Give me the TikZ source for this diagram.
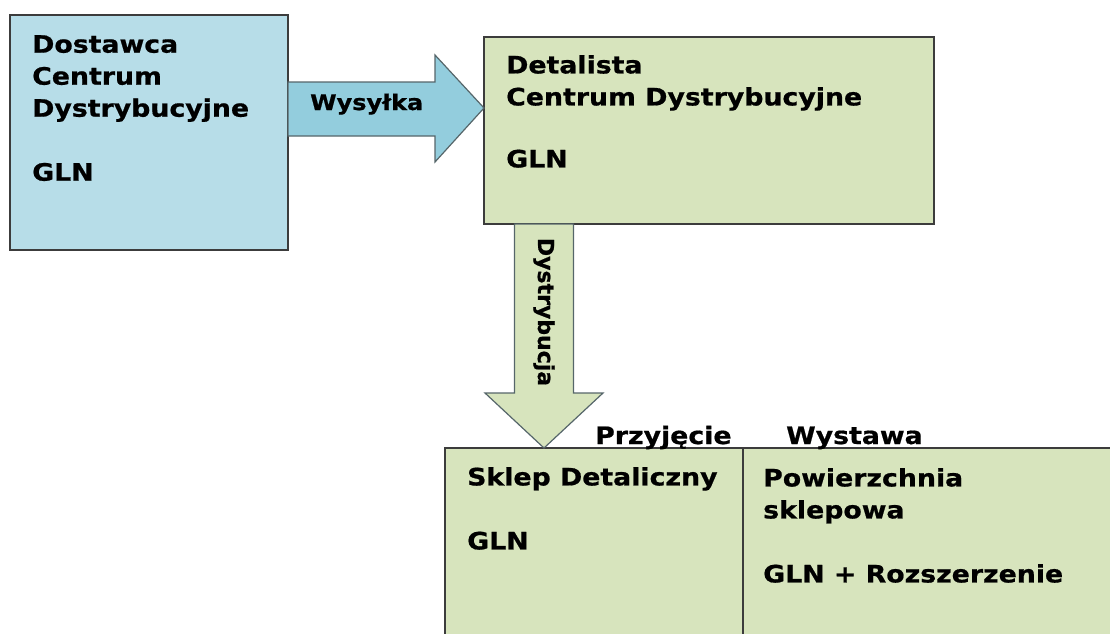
\documentclass[tikz,border=0pt]{standalone}
\usepackage{fontspec}
\setmainfont{DejaVu Sans}[BoldFeatures={FakeBold=0.7}]
\newfontfamily\lbl{DejaVu Sans}[FakeStretch=1.115,BoldFeatures={FakeBold=0.7}]
\usetikzlibrary{calc}
\definecolor{boxblue}{HTML}{B7DDE8}
\definecolor{arrblue}{HTML}{93CDDD}
\definecolor{boxgreen}{HTML}{D7E4BD}
\definecolor{edgegray}{HTML}{3C3C3C}
\definecolor{arredge}{HTML}{56666A}
\begin{document}
\begin{tikzpicture}[x=1pt,y=-1pt,
  box/.style={draw=edgegray,line width=1.6pt,anchor=north west,inner sep=0pt,outer sep=0pt},
  txt/.style={anchor=north west,inner sep=0pt,align=left,font=\lbl\bfseries\fontsize{24}{32}\selectfont},
  onelbl/.style={anchor=base west,inner sep=0pt,font=\lbl\bfseries\fontsize{24}{32}\selectfont},
  arr/.style={line width=1.2pt,line join=miter}]
\useasboundingbox (0,0) rectangle (1110,633);
\clip (0,0) rectangle (1110,633);
% boxes
\node[box,fill=boxblue,minimum width=278,minimum height=235] (sup) at (10,15) {};
\node[box,fill=boxgreen,minimum width=450,minimum height=187] (ret) at (484,37) {};
\node[box,fill=boxgreen,minimum width=700,minimum height=250] (shop) at (445,448) {};
\coordinate (div) at ($(shop.north west)+(298,0)$);
\draw[edgegray,line width=1.6pt] (div) -- ++(0,250);
% arrow Wysylka
\coordinate (ws) at ($(sup.north east)+(0,93)$);
\coordinate (wt) at ($(ret.north west)+(0,71)$);
\draw[arr,fill=arrblue,draw=arredge] ($(ws)+(0,-26)$) -- ($(wt)+(-49,-26)$) -- ($(wt)+(-49,-53)$) -- (wt)
  -- ($(wt)+(-49,54)$) -- ($(wt)+(-49,28)$) -- ($(ws)+(0,28)$) -- cycle;
\node[anchor=base west,inner sep=0pt,font=\lbl\bfseries\fontsize{21.5}{26}\selectfont] (wlab) at (310,110) {Wysyłka};
% arrow Dystrybucja
\coordinate (ds) at ($(ret.south west)+(60,0)$);
\coordinate (dt) at ($(shop.north west)+(99,0)$);
\draw[arr,fill=boxgreen,draw=arredge] ($(ds)+(-29.5,0)$) -- ($(dt)+(-29.5,-55)$) -- ($(dt)+(-59,-55)$) -- (dt)
  -- ($(dt)+(59,-55)$) -- ($(dt)+(29.5,-55)$) -- ($(ds)+(29.5,0)$) -- cycle;
\node[rotate=-90,inner sep=0pt,font=\bfseries\fontsize{22}{26}\selectfont] (dlab) at (544,312) {Dystrybucja};
% texts
\node[txt] (suptxt) at (32,35) {Dostawca\\Centrum\\Dystrybucyjne\\[32pt]GLN};
\node[txt] (rettxt) at (506,55) {Detalista\\Centrum Dystrybucyjne\\[30pt]GLN};
\node[txt] (shoptxt) at (467,467) {Sklep Detaliczny\\[32pt]GLN};
\node[txt] (floortxt) at (763,468) {Powierzchnia\\sklepowa\\[32pt]GLN + Rozszerzenie};
\node[onelbl] (recv) at (595,444) {Przyjęcie};
\node[onelbl] (disp) at (786,444) {Wystawa};
\end{tikzpicture}
\end{document}
